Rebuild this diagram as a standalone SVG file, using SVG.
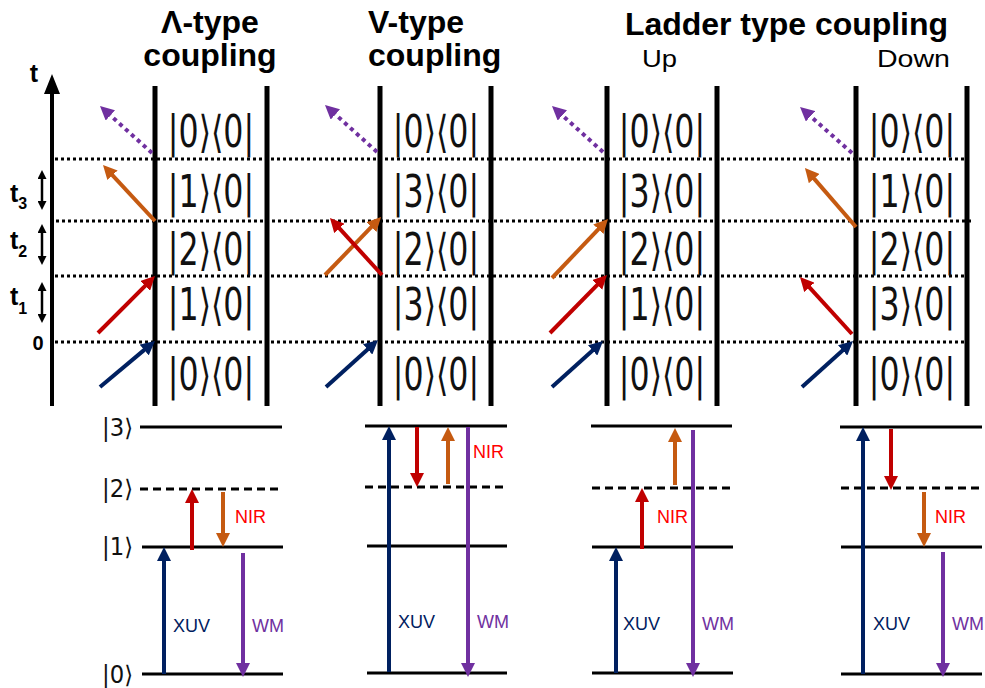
<svg xmlns="http://www.w3.org/2000/svg" width="985" height="688" viewBox="0 0 985 688">
<style>
.bg{fill:#fff}
.border{stroke:#000;stroke-width:5;fill:none}
.dot{stroke:#000;stroke-width:3;stroke-dasharray:3 3;fill:none}
.lvl{stroke:#000;stroke-width:3;fill:none}
.dash{stroke:#000;stroke-width:3;stroke-dasharray:8 5;fill:none}
.ket{font-family:"DejaVu Sans","Liberation Sans",sans-serif;font-size:44px;fill:#111;text-anchor:middle}
.ketS{font-family:"DejaVu Sans","Liberation Sans",sans-serif;font-size:24px;fill:#111}
.title{font-family:"Liberation Sans",Arial,sans-serif;font-weight:bold;font-size:32px;fill:#000}
.sub{font-family:"Liberation Sans",Arial,sans-serif;font-size:24px;fill:#000}
.tl{font-family:"Liberation Sans",Arial,sans-serif;font-weight:bold;font-size:25px;fill:#000}
.tsub{font-size:16px}
.lab{font-family:"Liberation Sans",Arial,sans-serif;font-size:18px}
.navy{stroke:#002060}
.red{stroke:#c00000}
.orange{stroke:#c55a11}
.purple{stroke:#7030a0}
.arr{stroke-width:4;fill:none}
.dotted{stroke-dasharray:4 4}
</style>
<defs>
<marker id="h-navy" viewBox="0 0 14 14" markerWidth="14" markerHeight="14" refX="4" refY="7" orient="auto" markerUnits="userSpaceOnUse"><path d="M0,0 L14,7 L0,14 z" fill="#002060"/></marker>
<marker id="h-red" viewBox="0 0 14 14" markerWidth="14" markerHeight="14" refX="4" refY="7" orient="auto" markerUnits="userSpaceOnUse"><path d="M0,0 L14,7 L0,14 z" fill="#c00000"/></marker>
<marker id="h-orange" viewBox="0 0 14 14" markerWidth="14" markerHeight="14" refX="4" refY="7" orient="auto" markerUnits="userSpaceOnUse"><path d="M0,0 L14,7 L0,14 z" fill="#c55a11"/></marker>
<marker id="h-purple" viewBox="0 0 14 14" markerWidth="14" markerHeight="14" refX="4" refY="7" orient="auto" markerUnits="userSpaceOnUse"><path d="M0,0 L14,7 L0,14 z" fill="#7030a0"/></marker>
<marker id="h-axis" viewBox="0 0 20 16" markerWidth="20" markerHeight="16" refX="2" refY="8" orient="auto" markerUnits="userSpaceOnUse"><path d="M0,0 L20,8 L0,16 z" fill="#000"/></marker>
<marker id="h-small" viewBox="0 0 9 9" markerWidth="9" markerHeight="9" refX="2" refY="4.5" orient="auto-start-reverse" markerUnits="userSpaceOnUse"><path d="M0,0 L9,4.5 L0,9 z" fill="#000"/></marker>
</defs>
<rect class="bg" x="0" y="0" width="985" height="688"/>

<g id="time-axis">
<line x1="52" y1="406" x2="52" y2="92" stroke="#000" stroke-width="4" marker-end="url(#h-axis)"/>
<text class="tl" x="34" y="82" text-anchor="middle">t</text>
<text class="tl" x="10" y="202">t<tspan class="tsub" dy="7">3</tspan></text>
<text class="tl" x="10" y="249">t<tspan class="tsub" dy="8">2</tspan></text>
<text class="tl" x="10" y="305">t<tspan class="tsub" dy="9">1</tspan></text>
<text class="tl" x="38" y="350" text-anchor="middle" style="font-size:20px">0</text>
<line x1="42" y1="177" x2="42" y2="203" stroke="#000" stroke-width="2.5" marker-start="url(#h-small)" marker-end="url(#h-small)"/>
<line x1="42" y1="231" x2="42" y2="258" stroke="#000" stroke-width="2.5" marker-start="url(#h-small)" marker-end="url(#h-small)"/>
<line x1="42" y1="289" x2="42" y2="316" stroke="#000" stroke-width="2.5" marker-start="url(#h-small)" marker-end="url(#h-small)"/>
</g>

<g id="time-slices">
<line class="dot" x1="55" y1="159" x2="966" y2="159"/>
<line class="dot" x1="50" y1="221" x2="973" y2="221"/>
<line class="dot" x1="55" y1="276" x2="966" y2="276"/>
<line class="dot" x1="55" y1="342" x2="966" y2="342"/>
</g>

<g id="titles">
<text class="title" x="210" y="33" text-anchor="middle">Λ-type</text>
<text class="title" x="210" y="66" text-anchor="middle">coupling</text>
<text class="title" x="368" y="33">V-type</text>
<text class="title" x="368" y="66">coupling</text>
<text class="title" x="625" y="35" textLength="323" lengthAdjust="spacing">Ladder type coupling</text>
<text class="sub" x="642" y="67" textLength="35" lengthAdjust="spacingAndGlyphs">Up</text>
<text class="sub" x="877" y="67" textLength="73" lengthAdjust="spacingAndGlyphs">Down</text>
</g>

<g id="panel-lambda">
<line class="border" x1="155" y1="86" x2="155" y2="406"/>
<line class="border" x1="267" y1="86" x2="267" y2="406"/>
<text class="ket" transform="translate(211 147) scale(0.72 1)">|0⟩⟨0|</text>
<text class="ket" transform="translate(211 207) scale(0.72 1)">|1⟩⟨0|</text>
<text class="ket" transform="translate(211 265) scale(0.72 1)">|2⟩⟨0|</text>
<text class="ket" transform="translate(211 320) scale(0.72 1)">|1⟩⟨0|</text>
<text class="ket" transform="translate(211 390) scale(0.72 1)">|0⟩⟨0|</text>
</g>

<g id="panel-v">
<line class="border" x1="380" y1="86" x2="380" y2="406"/>
<line class="border" x1="491" y1="86" x2="491" y2="406"/>
<text class="ket" transform="translate(436 147) scale(0.72 1)">|0⟩⟨0|</text>
<text class="ket" transform="translate(436 207) scale(0.72 1)">|3⟩⟨0|</text>
<text class="ket" transform="translate(436 265) scale(0.72 1)">|2⟩⟨0|</text>
<text class="ket" transform="translate(436 320) scale(0.72 1)">|3⟩⟨0|</text>
<text class="ket" transform="translate(436 390) scale(0.72 1)">|0⟩⟨0|</text>
</g>

<g id="panel-ladder-up">
<line class="border" x1="607" y1="86" x2="607" y2="406"/>
<line class="border" x1="717" y1="86" x2="717" y2="406"/>
<text class="ket" transform="translate(662 147) scale(0.72 1)">|0⟩⟨0|</text>
<text class="ket" transform="translate(662 207) scale(0.72 1)">|3⟩⟨0|</text>
<text class="ket" transform="translate(662 265) scale(0.72 1)">|2⟩⟨0|</text>
<text class="ket" transform="translate(662 320) scale(0.72 1)">|1⟩⟨0|</text>
<text class="ket" transform="translate(662 390) scale(0.72 1)">|0⟩⟨0|</text>
</g>

<g id="panel-ladder-down">
<line class="border" x1="856" y1="86" x2="856" y2="406"/>
<line class="border" x1="967" y1="86" x2="967" y2="406"/>
<text class="ket" transform="translate(912 147) scale(0.72 1)">|0⟩⟨0|</text>
<text class="ket" transform="translate(912 207) scale(0.72 1)">|1⟩⟨0|</text>
<text class="ket" transform="translate(912 265) scale(0.72 1)">|2⟩⟨0|</text>
<text class="ket" transform="translate(912 320) scale(0.72 1)">|3⟩⟨0|</text>
<text class="ket" transform="translate(912 390) scale(0.72 1)">|0⟩⟨0|</text>
</g>

<g id="levels-lambda">
<line class="lvl" x1="140" y1="427" x2="282" y2="427"/>
<line class="dash" x1="140" y1="489" x2="283" y2="489"/>
<line class="lvl" x1="142" y1="547" x2="283" y2="547"/>
<line class="lvl" x1="142" y1="674" x2="283" y2="674"/>
<text class="ketS" x="102" y="436" textLength="31" lengthAdjust="spacingAndGlyphs">|3⟩</text>
<text class="ketS" x="102" y="497" textLength="31" lengthAdjust="spacingAndGlyphs">|2⟩</text>
<text class="ketS" x="102" y="555" textLength="31" lengthAdjust="spacingAndGlyphs">|1⟩</text>
<text class="ketS" x="102" y="683" textLength="31" lengthAdjust="spacingAndGlyphs">|0⟩</text>
<text class="lab" x="235" y="523" fill="#ff0000">NIR</text>
<text class="lab" x="173" y="632" fill="#002060">XUV</text>
<text class="lab" x="252" y="632" fill="#7030a0">WM</text>
</g>

<g id="levels-v">
<line class="lvl" x1="365" y1="426" x2="507" y2="426"/>
<line class="dash" x1="365" y1="487" x2="507" y2="487"/>
<line class="lvl" x1="367" y1="546" x2="507" y2="546"/>
<line class="lvl" x1="367" y1="673" x2="507" y2="673"/>
<text class="lab" x="473" y="458" fill="#ff0000">NIR</text>
<text class="lab" x="398" y="628" fill="#002060">XUV</text>
<text class="lab" x="477" y="628" fill="#7030a0">WM</text>
</g>

<g id="levels-ladder-up">
<line class="lvl" x1="591" y1="426" x2="732" y2="426"/>
<line class="dash" x1="592" y1="488" x2="733" y2="488"/>
<line class="lvl" x1="592" y1="547" x2="733" y2="547"/>
<line class="lvl" x1="592" y1="673" x2="733" y2="673"/>
<text class="lab" x="657" y="523" fill="#ff0000">NIR</text>
<text class="lab" x="623" y="630" fill="#002060">XUV</text>
<text class="lab" x="702" y="630" fill="#7030a0">WM</text>
</g>

<g id="levels-ladder-down">
<line class="lvl" x1="840" y1="427" x2="982" y2="427"/>
<line class="dash" x1="841" y1="488" x2="982" y2="488"/>
<line class="lvl" x1="841" y1="547" x2="982" y2="547"/>
<line class="lvl" x1="841" y1="674" x2="982" y2="674"/>
<text class="lab" x="935" y="523" fill="#ff0000">NIR</text>
<text class="lab" x="873" y="630" fill="#002060">XUV</text>
<text class="lab" x="952" y="630" fill="#7030a0">WM</text>
</g>

<g id="connectors">
<line class="arr navy" x1="100" y1="387" x2="147.3" y2="347.4" marker-end="url(#h-navy)"/>
<line class="arr red" x1="98" y1="333" x2="147.9" y2="283.1" marker-end="url(#h-red)"/>
<line class="arr orange" x1="155" y1="221" x2="109.8" y2="172.3" marker-end="url(#h-orange)"/>
<line class="arr purple dotted" x1="152" y1="153" x2="107.4" y2="112.7" marker-end="url(#h-purple)"/>
<line class="arr purple dotted" x1="377" y1="152" x2="332.4" y2="111.7" marker-end="url(#h-purple)"/>
<line class="arr orange" x1="325" y1="275" x2="374.1" y2="224.2" marker-end="url(#h-orange)"/>
<line class="arr red" x1="382" y1="275" x2="336.7" y2="225.4" marker-end="url(#h-red)"/>
<line class="arr navy" x1="326" y1="387" x2="370.6" y2="346.7" marker-end="url(#h-navy)"/>
<line class="arr purple dotted" x1="603" y1="152" x2="559.4" y2="112.7" marker-end="url(#h-purple)"/>
<line class="arr orange" x1="552" y1="278" x2="601.1" y2="226.3" marker-end="url(#h-orange)"/>
<line class="arr red" x1="550" y1="333" x2="600" y2="282.1" marker-end="url(#h-red)"/>
<line class="arr navy" x1="552" y1="387" x2="595.6" y2="347.7" marker-end="url(#h-navy)"/>
<line class="arr purple dotted" x1="852" y1="153" x2="807.5" y2="113.6" marker-end="url(#h-purple)"/>
<line class="arr orange" x1="856" y1="227" x2="811.5" y2="175.6" marker-end="url(#h-orange)"/>
<line class="arr red" x1="852" y1="334" x2="806.7" y2="284.4" marker-end="url(#h-red)"/>
<line class="arr navy" x1="802" y1="387" x2="845.6" y2="347.7" marker-end="url(#h-navy)"/>
<line class="arr navy" x1="164" y1="674" x2="164" y2="557" marker-end="url(#h-navy)"/>
<line class="arr red" x1="192" y1="550" x2="192" y2="499" marker-end="url(#h-red)"/>
<line class="arr orange" x1="223" y1="492" x2="223" y2="537" marker-end="url(#h-orange)"/>
<line class="arr purple" x1="243" y1="553" x2="243" y2="667" marker-end="url(#h-purple)"/>
<line class="arr navy" x1="389" y1="672" x2="389" y2="436" marker-end="url(#h-navy)"/>
<line class="arr red" x1="417" y1="427" x2="417" y2="477" marker-end="url(#h-red)"/>
<line class="arr orange" x1="448" y1="484" x2="448" y2="437" marker-end="url(#h-orange)"/>
<line class="arr purple" x1="468" y1="427" x2="468" y2="667" marker-end="url(#h-purple)"/>
<line class="arr navy" x1="616" y1="673" x2="616" y2="557" marker-end="url(#h-navy)"/>
<line class="arr red" x1="642" y1="549" x2="642" y2="498" marker-end="url(#h-red)"/>
<line class="arr orange" x1="675" y1="485" x2="675" y2="438" marker-end="url(#h-orange)"/>
<line class="arr purple" x1="693" y1="430" x2="693" y2="667" marker-end="url(#h-purple)"/>
<line class="arr navy" x1="863" y1="674" x2="863" y2="437" marker-end="url(#h-navy)"/>
<line class="arr red" x1="891" y1="429" x2="891" y2="480" marker-end="url(#h-red)"/>
<line class="arr orange" x1="924" y1="492" x2="924" y2="537" marker-end="url(#h-orange)"/>
<line class="arr purple" x1="943" y1="552" x2="943" y2="667" marker-end="url(#h-purple)"/>
</g>
</svg>
